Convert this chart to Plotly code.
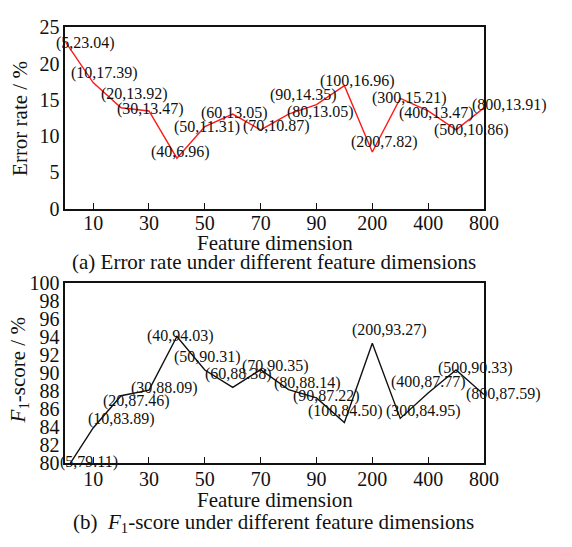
import plotly.graph_objects as go

# ---- data ----
dims = ["5", "10", "20", "30", "40", "50", "60", "70", "80", "90",
        "100", "200", "300", "400", "500", "800"]
error_rate = [23.04, 17.39, 13.92, 13.47, 6.96, 11.31, 13.05, 10.87, 13.05, 14.35,
              16.96, 7.82, 15.21, 13.47, 10.86, 13.91]
f1_score = [79.11, 83.89, 87.46, 88.09, 94.03, 90.31, 88.38, 90.35, 88.14, 87.22,
            84.50, 93.27, 84.95, 87.77, 90.33, 87.59]
x_tick_labels = ["10", "30", "50", "70", "90", "200", "400", "800"]
err_label_text = ["(5,23.04)", "(10,17.39)", "(20,13.92)", "(30,13.47)", "(40,6.96)",
                  "(50,11.31)", "(60,13.05)", "(70,10.87)", "(80,13.05)", "(90,14.35)",
                  "(100,16.96)", "(200,7.82)", "(300,15.21)", "(400,13.47)",
                  "(500,10.86)", "(800,13.91)"]
f1_label_text = ["(5,79.11)", "(10,83.89)", "(20,87.46)", "(30,88.09)", "(40,94.03)",
                 "(50,90.31)", "(60,88.38)", "(70,90.35)", "(80,88.14)", "(90,87.22)",
                 "(100,84.50)", "(200,93.27)", "(300,84.95)", "(400,87.77)",
                 "(500,90.33)", "(800,87.59)"]

# ---- label offsets (pixels, dx right, dy up) ----
err_offsets = [(20, -1), (11, 10), (13, 14), (2, 2), (4, 6), (2, 0), (2, 1), (16, 4),
               (32, 2), (-13, 10), (13, 5), (12, 10), (9, 0), (8, -2), (15, 0), (26, 3)]
f1_offsets = [(24, 1), (28, 9), (15, -5), (16, 2), (4, 0), (3, 13), (6, 13), (15, 4),
              (19, 7), (10, 2), (1, 11), (17, 13), (23, 7), (0, 11), (19, 2), (20, 1)]

FONT = "Liberation Serif"
W, H = 572, 547
xdom = [67 / W, 497 / W]
top_dom = [1 - 206 / H, 1 - 17 / H]
bot_dom = [1 - 471 / H, 1 - 283 / H]

idx = list(range(len(dims)))
tickvals = [dims.index(t) for t in x_tick_labels]

fig = go.Figure()
fig.add_trace(go.Scatter(x=idx, y=error_rate, mode="lines",
                         line=dict(color="#ff1a1a", width=1.4),
                         xaxis="x", yaxis="y", showlegend=False))
fig.add_trace(go.Scatter(x=idx, y=f1_score, mode="lines",
                         line=dict(color="#111111", width=1.4),
                         xaxis="x2", yaxis="y2", showlegend=False))

ann = []
for i, (t, v, (dx, dy)) in enumerate(zip(err_label_text, error_rate, err_offsets)):
    ann.append(dict(x=i, y=v, xref="x", yref="y", text=t, showarrow=False,
                    xshift=dx, yshift=dy, font=dict(size=16, color="#111")))
f1_lo = 80
for i, (t, v, (dx, dy)) in enumerate(zip(f1_label_text, f1_score, f1_offsets)):
    ann.append(dict(x=i, y=max(v, f1_lo), xref="x2", yref="y2", text=t, showarrow=False,
                    xshift=dx, yshift=dy, font=dict(size=16, color="#111")))

def ptext(x, y, text, size=21, angle=0):
    return dict(x=x / W, y=1 - y / H, xref="paper", yref="paper", text=text,
                showarrow=False, xanchor="center", yanchor="middle", textangle=angle,
                font=dict(size=size, color="#111"))

ann += [
    ptext(21, 112, "Error rate / %", 21, -90),
    ptext(282, 242, "Feature dimension"),
    ptext(281, 262, "(a) Error rate under different feature dimensions"),
    ptext(19, 375, "<i>F</i><sub>1</sub>-score / %", 21, -90),
    ptext(282, 509, "Feature dimension"),
    ptext(281, 533, "(b)  <i>F</i><sub>1</sub>-score under different feature dimensions"),
]

axis_common = dict(showline=True, linecolor="#111", linewidth=1.5, mirror=True,
                   showgrid=False, zeroline=False, tickfont=dict(size=20, color="#111"))

fig.update_layout(
    width=W, height=H, margin=dict(l=0, r=0, t=0, b=0),
    paper_bgcolor="white", plot_bgcolor="white",
    font=dict(family=FONT, color="#111"),
    xaxis=dict(domain=xdom, anchor="y", range=[0, 15], tickmode="array",
               tickvals=tickvals, ticktext=x_tick_labels, ticks="inside",
               ticklen=6, tickcolor="#111", ticklabelstandoff=-4, **axis_common),
    yaxis=dict(domain=top_dom, anchor="x", range=[0, 25], tickmode="array",
               tickvals=[0, 5, 10, 15, 20, 25], ticks="", **axis_common),
    xaxis2=dict(domain=xdom, anchor="y2", range=[0, 15], tickmode="array",
                tickvals=tickvals, ticktext=x_tick_labels, ticks="inside",
                ticklen=6, tickcolor="#111", ticklabelstandoff=-3, **axis_common),
    yaxis2=dict(domain=bot_dom, anchor="x2", range=[80, 100], tickmode="array",
                tickvals=list(range(80, 101, 2)), ticks="", **axis_common),
    annotations=ann,
)

fig.write_html("out.html")
